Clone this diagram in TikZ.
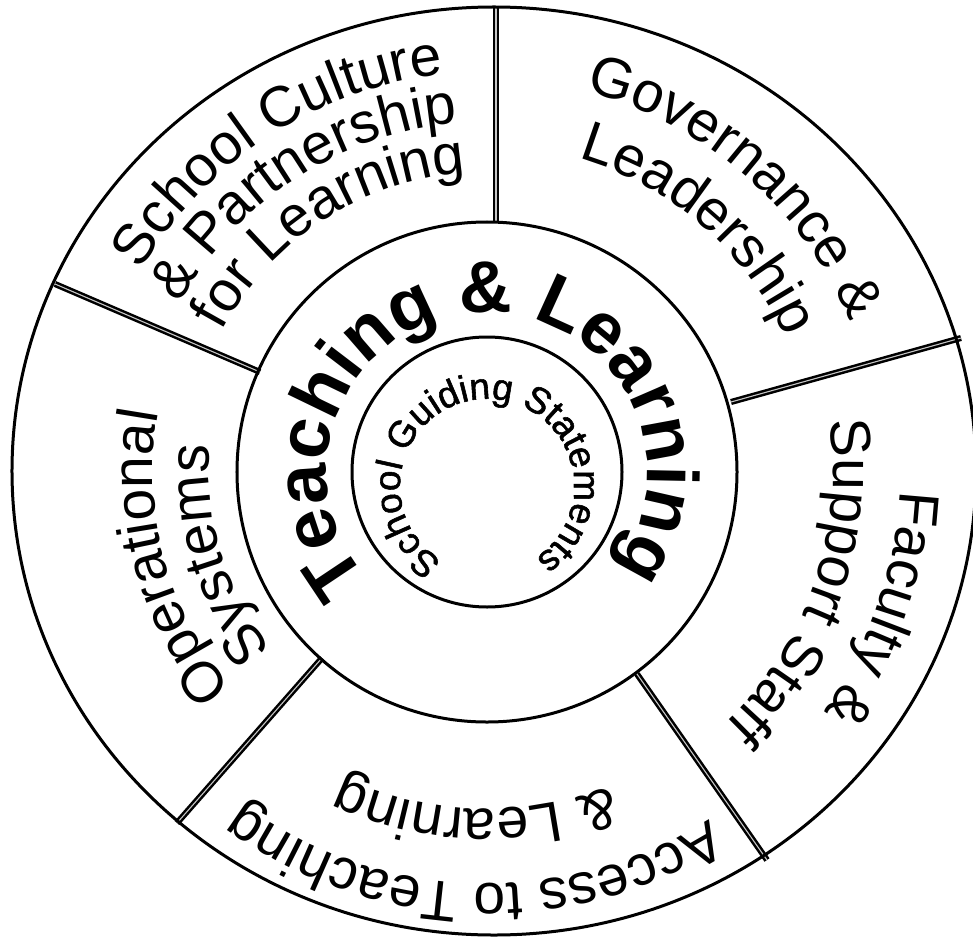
\documentclass[tikz,border=0pt]{standalone}
\usepackage{fontspec}
\setmainfont{Liberation Sans}
\newfontfamily\corefamily[FakeBold=1.5]{Liberation Sans}
\usetikzlibrary{decorations.text}
\newcommand\ringfont{\fontsize{57}{60}\selectfont}
\newcommand\hubfont{\fontsize{73}{75}\selectfont\bfseries}
\newcommand\corefont{\corefamily\fontsize{37}{40}\selectfont}
\tikzset{
  ring/.style={line width=3pt},
  divider/.style={line width=2.5pt, double=gray!45, double distance=1.1pt},
  ring label/.style={decorate, decoration={text along path, text align=center, text={|\ringfont|#1}}},
  hub label/.style={decorate, decoration={text along path, text align=center, text={|\hubfont|#1}}},
  core label/.style={decorate, decoration={text along path, text align=center, text={|\corefont|#1}}}
}
\begin{document}
\begin{tikzpicture}[x=1pt,y=1pt]
      \useasboundingbox[fill=white] (-487,-465) rectangle (486,472);
      % ends of the five dividers
      \coordinate (n-out) at (9,466);
      \coordinate (n-in) at (9,249);
      \coordinate (w-out) at (-432,188);
      \coordinate (w-in) at (-227,100);
      \coordinate (e-out) at (474,134);
      \coordinate (e-in) at (244,70);
      \coordinate (sw-out) at (-310,-351);
      \coordinate (sw-in) at (-165,-186);
      \coordinate (se-out) at (280,-388);
      \coordinate (se-in) at (150,-202);
      \draw[divider] (n-out) to (n-in);
      \draw[divider] (w-out) to (w-in);
      \draw[divider] (e-out) to (e-in);
      \draw[divider] (sw-out) to (sw-in);
      \draw[divider] (se-out) to (se-in);
      \draw[ring] (7,1) ellipse[x radius=482, y radius=464];
      \draw[ring] (0,0) circle[radius=250];
      \draw[ring] (0,0) circle[radius=135];
      % outer ring labels
      \path[ring label={School Culture}] (213:400) arc[start angle=213, end angle=33, radius=400];
      \path[ring label={{\&} Partnership}] (213:350) arc[start angle=213, end angle=33, radius=350];
      \path[ring label={for Learning}] (213:300) arc[start angle=213, end angle=33, radius=300];
      \path[ring label={Governance {\&}}] (139:393) arc[start angle=139, end angle=-41, radius=393];
      \path[ring label={Leadership}] (139:327) arc[start angle=139, end angle=-41, radius=327];
      \path[ring label={Faculty {\&}}] (71:413) arc[start angle=71, end angle=-109, radius=413];
      \path[ring label={Support Staff}] (71:346) arc[start angle=71, end angle=-109, radius=346];
      \path[ring label={Access to Teaching}] (-2:412) arc[start angle=-2, end angle=-182, radius=412];
      \path[ring label={{\&} Learning}] (-2:337) arc[start angle=-2, end angle=-182, radius=337];
      \path[ring label={Operational}] (285:334) arc[start angle=285, end angle=105, radius=334];
      \path[ring label={Systems}] (287:278) arc[start angle=287, end angle=107, radius=278];
      % hub
      \path[hub label={Teaching {\&} Learning}] (242.5:160) arc[start angle=242.5, end angle=-57.5, radius=160];
      \path[core label={School Guiding Statements}] (0,-14) ++(261.6:87) arc[start angle=261.6, end angle=-78.4, radius=87];
    \end{tikzpicture}
\end{document}
